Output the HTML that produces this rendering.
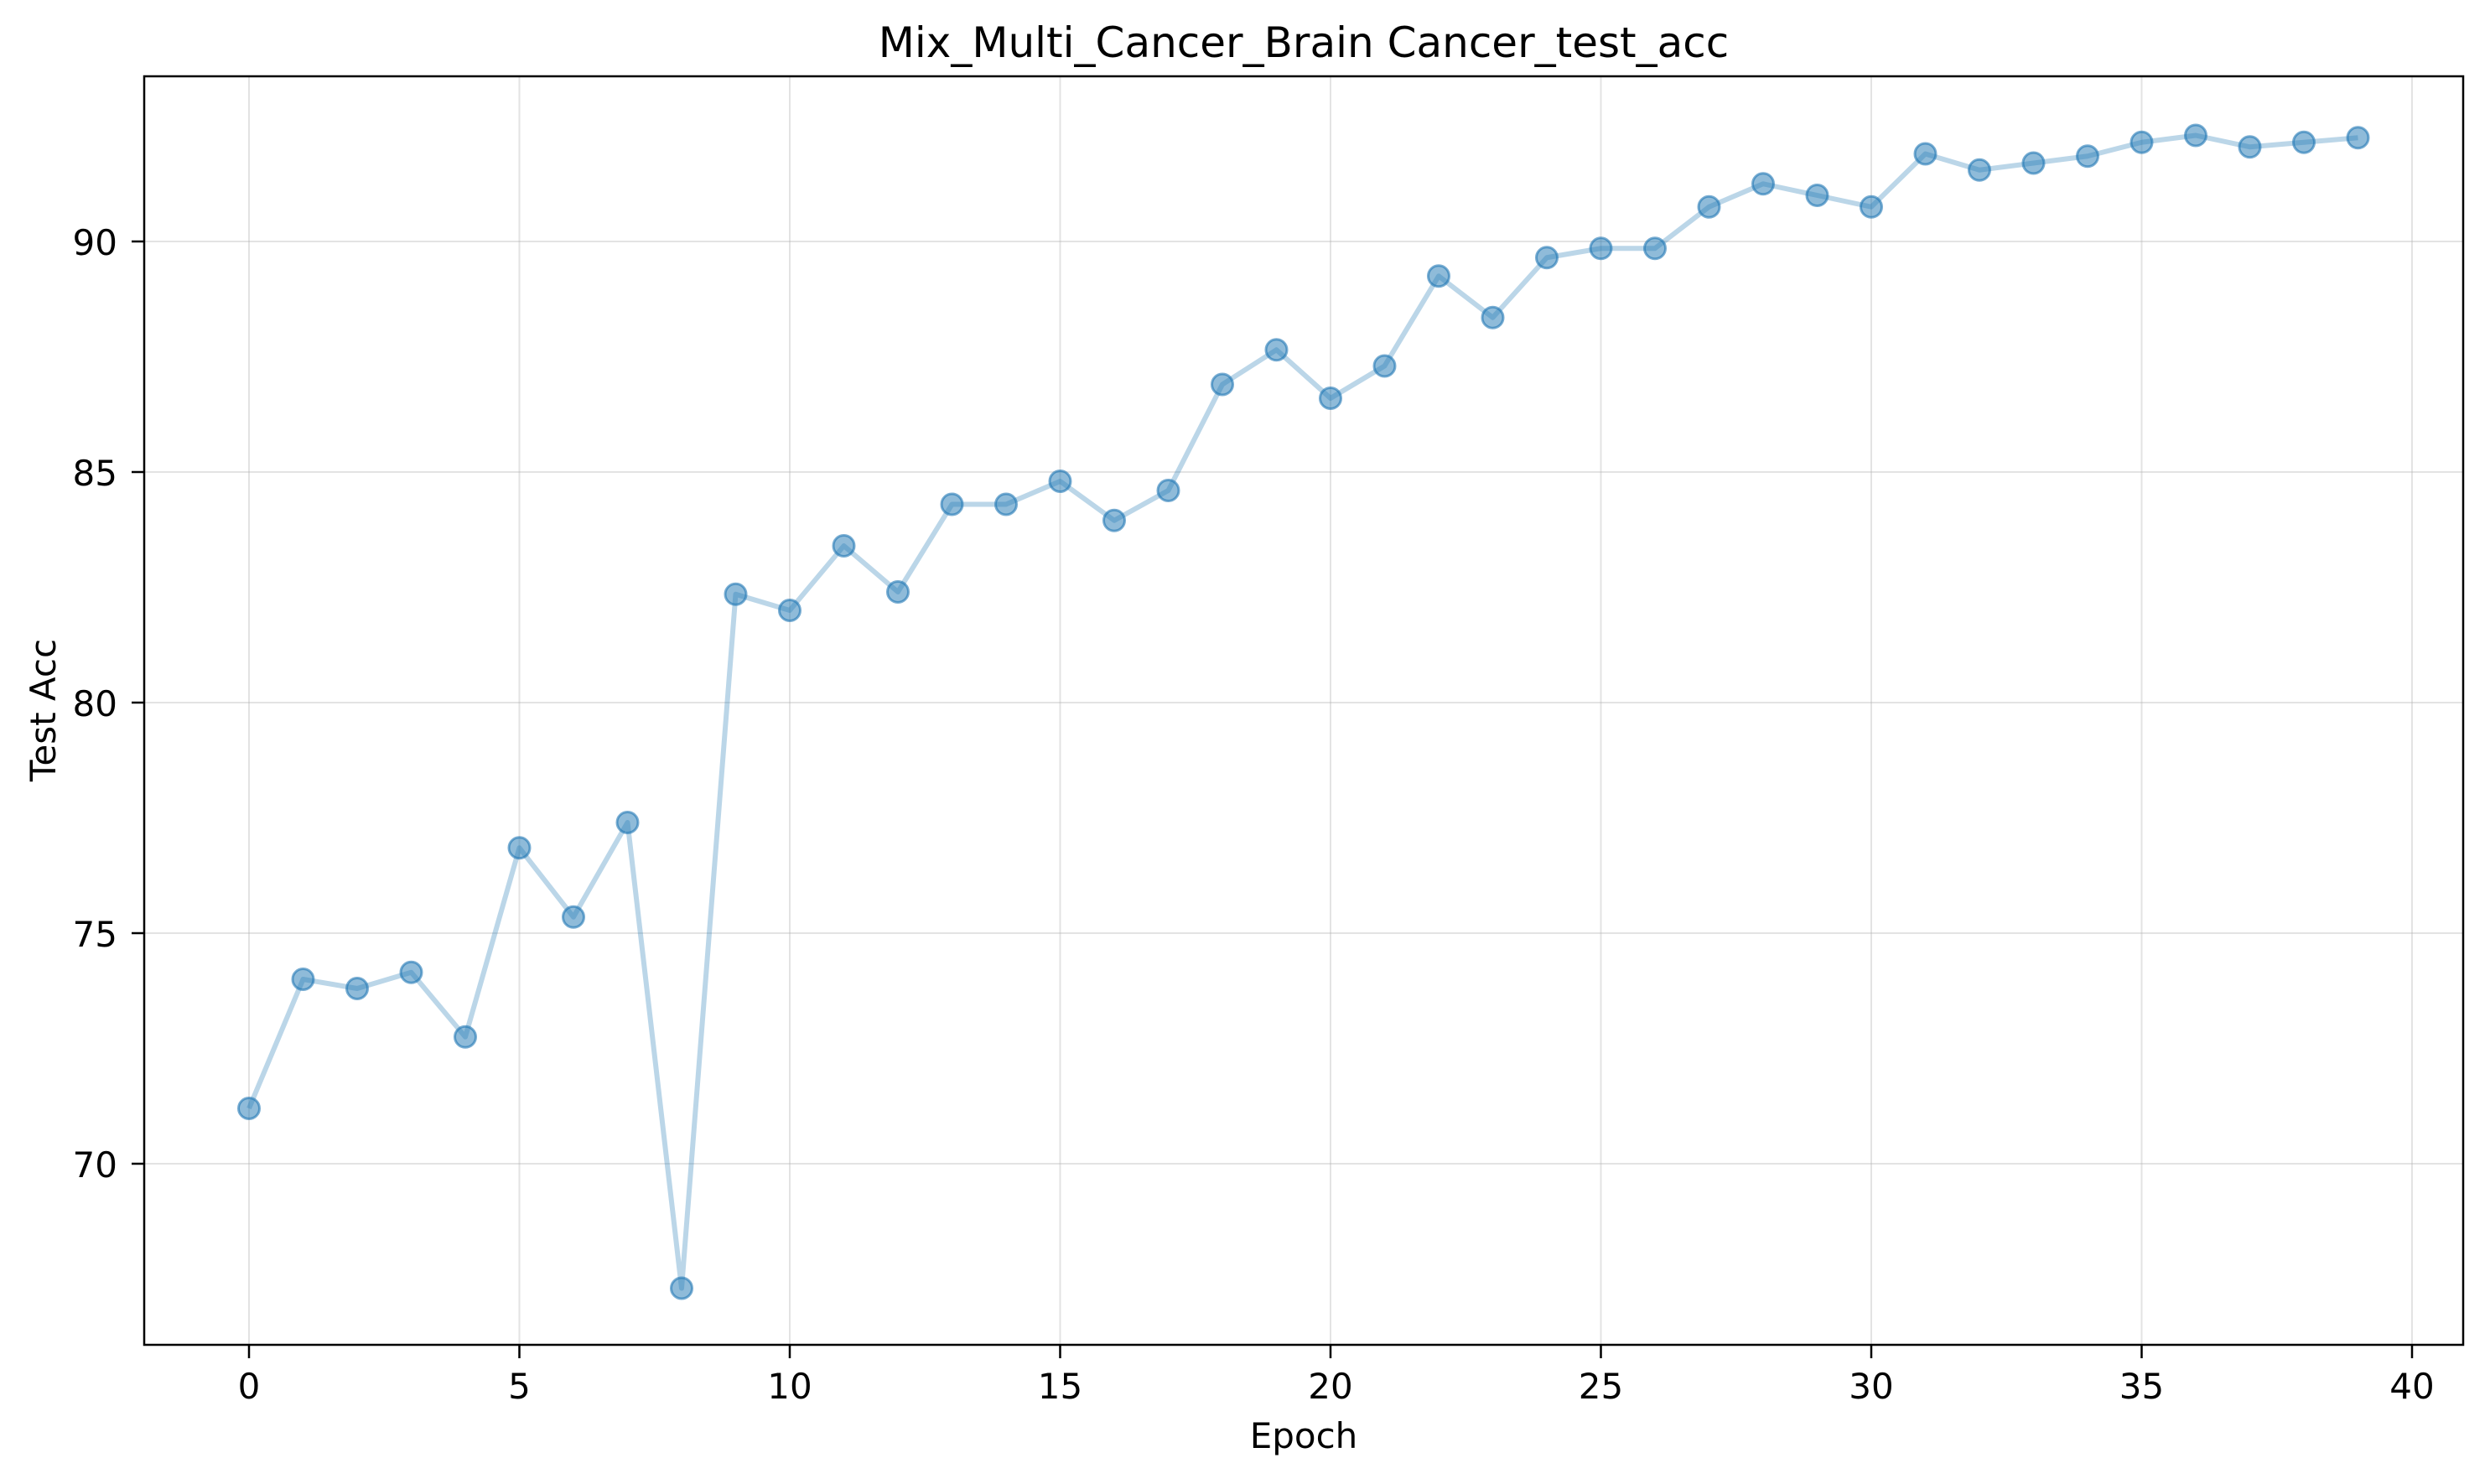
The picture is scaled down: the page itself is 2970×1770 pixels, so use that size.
<!DOCTYPE html>
<html><head><meta charset="utf-8"><style>
body{margin:0;background:#fff;}
svg text{font-family:"DejaVu Sans","Liberation Sans",sans-serif;fill:#000;}
</style></head><body>
<svg id="chart" width="2970" height="1765" xmlns="http://www.w3.org/2000/svg">
<rect width="2970" height="1765" fill="#fff"/>
<g id="grid"></g>
<g id="series"></g>
<rect x="172" y="91" width="2766" height="1513" fill="none" stroke="#000" stroke-width="2.5"/>
<g id="ticks"></g>
<text x="1555" y="68" font-size="50" text-anchor="middle">Mix_Multi_Cancer_Brain Cancer_test_acc</text>
<text x="1555" y="1727" font-size="42" text-anchor="middle">Epoch</text>
<text x="66" y="847" font-size="42" text-anchor="middle" transform="rotate(-90 66 847)">Test Acc</text>
</svg>
<script>
const epochs=[0,1,2,3,4,5,6,7,8,9,10,11,12,13,14,15,16,17,18,19,20,21,22,23,24,25,26,27,28,29,30,31,32,33,34,35,36,37,38,39];
const testAcc=[71.2,74.0,73.8,74.15,72.75,76.85,75.35,77.4,67.3,82.35,82.0,83.4,82.4,84.3,84.3,84.8,83.95,84.6,86.9,87.65,86.6,87.3,89.25,88.35,89.65,89.85,89.85,90.75,91.25,91.0,90.75,91.9,91.55,91.7,91.85,92.15,92.3,92.05,92.15,92.25];
const xTicks=[0,5,10,15,20,25,30,35,40];
const yTicks=[70,75,80,85,90];
const NS="http://www.w3.org/2000/svg";
function sx(v){return 297+(v-0)*(2877-297)/40;}
function sy(v){return 288+(90-v)*(1388-288)/20;}
function mk(tag,attrs,parent){const e=document.createElementNS(NS,tag);for(const k in attrs)e.setAttribute(k,attrs[k]);parent.appendChild(e);return e;}
const grid=document.getElementById('grid'),ticks=document.getElementById('ticks'),series=document.getElementById('series');
xTicks.forEach(t=>{
  const x=sx(t);
  const g=mk('line',{x1:x,x2:x,y1:91,y2:1604,stroke:'#b0b0b0','stroke-opacity':0.35,'stroke-width':2},grid);
  
  
  const tk=mk('line',{x1:x,x2:x,y1:1604,y2:1620,stroke:'#000','stroke-width':2.5},ticks);
  
  
  const tx=mk('text',{x:x,y:1668,'font-size':42,'text-anchor':'middle'},ticks);
  tx.textContent=t;
  
  
});
yTicks.forEach(t=>{
  const y=sy(t);
  const g=mk('line',{x1:172,x2:2938,y1:y,y2:y,stroke:'#b0b0b0','stroke-opacity':0.35,'stroke-width':2},grid);
  
  
  const tk=mk('line',{x1:157,x2:172,y1:y,y2:y,stroke:'#000','stroke-width':2.5},ticks);
  
  
  const tx=mk('text',{x:140,y:y+16,'font-size':42,'text-anchor':'end'},ticks);
  tx.textContent=t;
  
  
});
const pts=epochs.map((e,i)=>sx(e)+','+sy(testAcc[i])).join(' ');
const line=mk('polyline',{points:pts,fill:'none',stroke:'#1f77b4','stroke-opacity':0.3,'stroke-width':6,'stroke-linejoin':'round'},series);


epochs.forEach((e,i)=>{
  const c=mk('circle',{cx:sx(e),cy:sy(testAcc[i]),r:12.5,fill:'#1f77b4','fill-opacity':0.5,stroke:'#1f77b4','stroke-opacity':0.6,'stroke-width':3},series);
  
  
});
</script>
</body></html>
